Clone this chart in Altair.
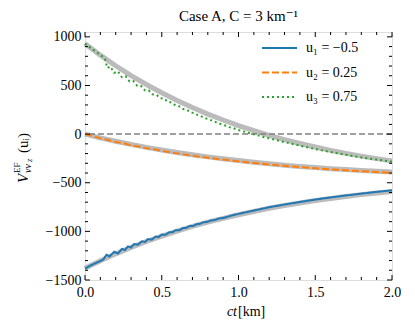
import altair as alt
import pandas as pd

# ---------------- data ----------------
grid_x = [0.0, 0.1, 0.2, 0.3, 0.4, 0.5, 0.6, 0.7, 0.8, 0.9, 1.0,
          1.1, 1.2, 1.3, 1.4, 1.5, 1.6, 1.7, 1.8, 1.9, 2.0]
gray_u1 = [-1380, -1303, -1231, -1165, -1104, -1049, -997, -949, -905, -866, -829,
           -795, -762, -734, -708, -683, -661, -641, -622, -605, -590]
gray_u2 = [0, -38, -73, -106, -136, -163, -189, -213, -234, -254, -272,
           -289, -305, -319, -332, -344, -355, -365, -374, -383, -390]
gray_u3 = [930, 812, 703, 602, 510, 425, 346, 273, 206, 145, 88,
           36, -12, -56, -96, -133, -167, -198, -226, -252, -275]

u1_x = [0.0, 0.05, 0.1, 0.12, 0.14, 0.16, 0.19, 0.215, 0.24, 0.26, 0.28, 0.3,
        0.32, 0.345, 0.37, 0.39, 0.41, 0.435, 0.46, 0.48, 0.5, 0.525, 0.55,
        0.57, 0.59, 0.615, 0.64, 0.66, 0.68, 0.705, 0.73, 0.75, 0.77, 0.795,
        0.82, 0.845, 0.87, 0.9, 0.95, 1.0, 1.1, 1.2, 1.3, 1.4, 1.5, 1.6, 1.7,
        1.8, 1.9, 2.0]
u1_y = [-1382, -1340, -1305, -1288, -1240, -1258, -1210, -1228, -1180, -1192,
        -1155, -1166, -1130, -1138, -1102, -1110, -1080, -1085, -1054, -1058,
        -1033, -1035, -1008, -1010, -988, -988, -965, -964, -946, -944, -925,
        -922, -907, -903, -888, -884, -869, -862, -840, -820, -786, -752, -724,
        -698, -673, -651, -631, -612, -594, -578]

u2_x = [0.0, 0.05, 0.1, 0.15, 0.2, 0.25, 0.3, 0.35, 0.4, 0.45, 0.5, 0.6, 0.7,
        0.8, 0.9, 1.0, 1.1, 1.2, 1.3, 1.4, 1.5, 1.6, 1.7, 1.8, 1.9, 2.0]
u2_y = [0, -20, -42, -60, -82, -93, -115, -128, -146, -155, -172, -198, -222,
        -243, -262, -280, -297, -312, -326, -339, -351, -362, -372, -381, -390, -398]

u3_x = [0.0, 0.04, 0.08, 0.11, 0.13, 0.145, 0.165, 0.19, 0.215, 0.24, 0.265,
        0.29, 0.315, 0.34, 0.365, 0.39, 0.415, 0.44, 0.465, 0.49, 0.515, 0.54,
        0.565, 0.59, 0.615, 0.64, 0.665, 0.69, 0.715, 0.74, 0.765, 0.79, 0.815,
        0.84, 0.865, 0.89, 0.915, 0.94, 0.965, 0.99, 1.05, 1.1, 1.15, 1.2, 1.3,
        1.4, 1.5, 1.6, 1.7, 1.8, 1.9, 2.0]
u3_y = [930, 883, 838, 803, 775, 680, 695, 630, 645, 585, 595, 542, 545, 496,
        495, 452, 450, 410, 405, 370, 365, 332, 325, 294, 285, 258, 248, 224,
        212, 192, 178, 160, 147, 130, 117, 100, 88, 72, 62, 46, 20, -2, -24,
        -44, -82, -119, -153, -184, -213, -239, -262, -283]

series_names = ["u1", "u2", "u3"]
series_labels = ["u\u2081 = \u22120.5", "u\u2082 = 0.25", "u\u2083 = 0.75"]
series_colors = ["#1f77b4", "#ff7f0e", "#2ca02c"]
series_dash = [[1, 0], [7, 3], [2, 3]]

x_major = [0.0, 0.5, 1.0, 1.5, 2.0]
x_minor = [0.1, 0.2, 0.3, 0.4, 0.6, 0.7, 0.8, 0.9, 1.1, 1.2, 1.3, 1.4,
           1.6, 1.7, 1.8, 1.9]
y_major = [-1500, -1000, -500, 0, 500, 1000]
y_minor = [-1400, -1300, -1200, -1100, -900, -800, -700, -600, -400, -300,
           -200, -100, 100, 200, 300, 400, 600, 700, 800, 900]

# ---------------- layout ----------------
W, H = 307, 248
FONT = "'Liberation Serif', 'DejaVu Serif', serif"

xs = alt.Scale(domain=[0, 2], nice=False, zero=False)
ys = alt.Scale(domain=[-1500, 1050], nice=False, zero=False)
xax = alt.Axis(values=x_major, format=".1f", ticks=False, domain=False, grid=False,
               labelFont=FONT, labelFontSize=14, labelPadding=5, labelColor="black",
               labelFlush=False, labelOverlap=False, title=None)
yax = alt.Axis(values=y_major, format="d", ticks=False, domain=False, grid=False,
               labelFont=FONT, labelFontSize=14, labelPadding=4, labelColor="black",
               labelFlush=False, labelOverlap=False, title=None)


def X(field="x"):
    return alt.X(f"{field}:Q", scale=xs, axis=xax)


def Y(field="y"):
    return alt.Y(f"{field}:Q", scale=ys, axis=yax)


gray_df = pd.concat([
    pd.DataFrame({"x": grid_x, "y": g, "s": n})
    for g, n in zip([gray_u1, gray_u2, gray_u3], series_names)
])

gray = alt.Chart(gray_df).mark_line(color="#bbbbbb", strokeWidth=5).encode(
    x=X(), y=Y(), detail="s:N")

zero = alt.Chart(pd.DataFrame({"y": [0]})).mark_rule(
    color="#808080", strokeWidth=1.5, strokeDash=[6, 3]).encode(y=Y())

layers = [gray, zero]
for xx, yy, col, dash in zip([u1_x, u2_x, u3_x], [u1_y, u2_y, u3_y],
                             series_colors, series_dash):
    layers.append(
        alt.Chart(pd.DataFrame({"x": xx, "y": yy})).mark_line(
            color=col, strokeWidth=2, strokeDash=dash).encode(x=X(), y=Y()))

# inward ticks on all four sides
xt_major = pd.DataFrame({"x": x_major})
xt_minor = pd.DataFrame({"x": x_minor})
yt_major = pd.DataFrame({"y": y_major})
yt_minor = pd.DataFrame({"y": y_minor})
for df, L in [(xt_major, 5), (xt_minor, 3)]:
    layers.append(alt.Chart(df).mark_rule(color="black", strokeWidth=1).encode(
        x=X(), y=alt.value(H), y2=alt.value(H - L)))
    layers.append(alt.Chart(df).mark_rule(color="black", strokeWidth=1).encode(
        x=X(), y=alt.value(0), y2=alt.value(L)))
for df, L in [(yt_major, 5), (yt_minor, 3)]:
    layers.append(alt.Chart(df).mark_rule(color="black", strokeWidth=1).encode(
        y=Y(), x=alt.value(0), x2=alt.value(L)))
    layers.append(alt.Chart(df).mark_rule(color="black", strokeWidth=1).encode(
        y=Y(), x=alt.value(W), x2=alt.value(W - L)))

# legend (drawn by hand, upper right)
leg_y = [16, 40.5, 65]
for lab, col, dash, ly in zip(series_labels, series_colors, series_dash, leg_y):
    layers.append(alt.Chart(pd.DataFrame({"a": [0]})).mark_rule(
        color=col, strokeWidth=2, strokeDash=dash).encode(
        x=alt.value(177), x2=alt.value(212), y=alt.value(ly)))
    layers.append(alt.Chart(pd.DataFrame({"a": [0]})).mark_text(
        text=lab, font=FONT, fontSize=14, align="left", baseline="middle",
        color="black").encode(x=alt.value(221), y=alt.value(ly)))

# axis titles as text
layers.append(alt.Chart(pd.DataFrame({"a": [0]})).mark_text(
    text="ct", font=FONT, fontSize=14, fontStyle="italic", align="right",
    baseline="middle", color="black").encode(x=alt.value(152), y=alt.value(280)))
layers.append(alt.Chart(pd.DataFrame({"a": [0]})).mark_text(
    text="[km]", font=FONT, fontSize=14, align="left",
    baseline="middle", color="black").encode(x=alt.value(153), y=alt.value(280)))

# y title: V^EF_{nu nu_z}(u_i), rotated
ytitle_parts = [
    ("V", 15, "italic", 0, 0),
    ("EF", 9, "normal", 10, -6),
    ("\u03bd\u03bd", 10, "italic", 10, 5),
    ("z", 8, "italic", 21, 7),
    ("(u\u1d62)", 15, "normal", 30, 0),
]
base_y = 151
for txt, fs, st, off, dx in ytitle_parts:
    layers.append(alt.Chart(pd.DataFrame({"a": [0]})).mark_text(
        text=txt, font=FONT, fontSize=fs, fontStyle=st, angle=270, align="left",
        baseline="middle", color="black").encode(
        x=alt.value(-62 + dx), y=alt.value(base_y - off)))

chart = alt.layer(*layers).properties(
    width=W, height=H,
    title=alt.TitleParams("Case A, C = 3 km\u207b\u00b9", font=FONT, fontSize=15,
                          fontWeight="normal", color="black", offset=6),
    autosize=alt.AutoSizeParams(type="none"),
    padding={"left": 77, "top": 24, "right": 15, "bottom": 40},
).configure_view(stroke="black", strokeWidth=1).configure(background="white")

chart.save("out.html", embed_options={"renderer": "svg", "actions": False})
